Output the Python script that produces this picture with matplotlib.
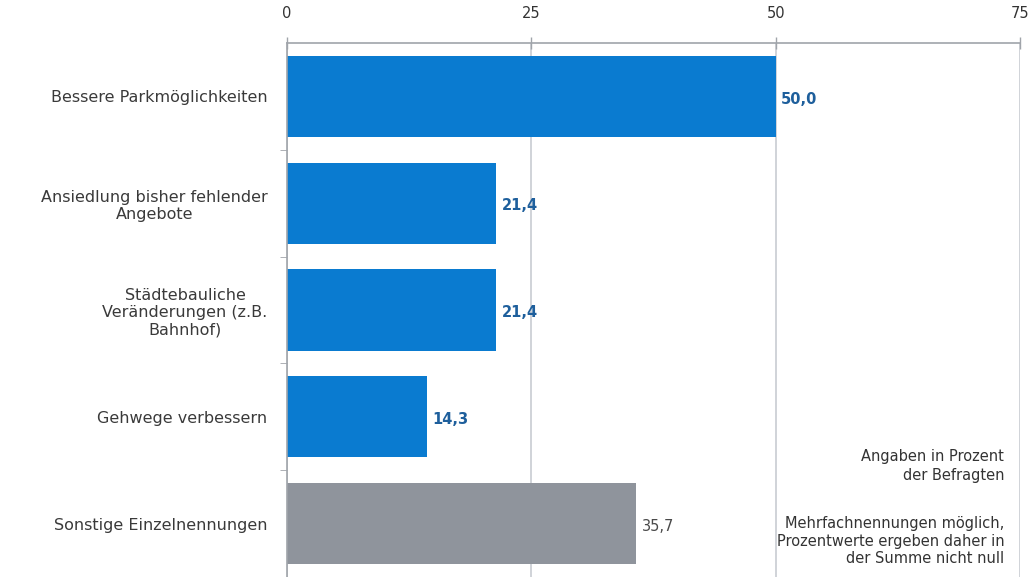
import matplotlib.pyplot as plt

plt.rcParams['font.family'] = ['DejaVu Sans']

# Daten
kategorien = ['Bessere Parkmöglichkeiten',
              'Ansiedlung bisher fehlender\nAngebote',
              'Städtebauliche\nVeränderungen (z.B.\nBahnhof)',
              'Gehwege verbessern',
              'Sonstige Einzelnennungen']
werte = [50.0, 21.4, 21.4, 14.3, 35.7]
farben = ['#0a7bd0', '#0a7bd0', '#0a7bd0', '#0a7bd0', '#8f949c']
label_farben = ['#1e5f9c', '#1e5f9c', '#1e5f9c', '#1e5f9c', '#4a4a4a']
label_gewicht = ['bold', 'bold', 'bold', 'bold', 'normal']
x_ticks = [0, 25, 50, 75]

fig = plt.figure(figsize=(10.31, 5.77), dpi=100)
ax = fig.add_axes([0.2784, 0.0, 0.7109, 0.9255])

pos = list(range(len(kategorien)))
ax.barh(pos, werte, height=0.76, color=farben, zorder=2)

# Werte an den Balken
for p, w, c, fw in zip(pos, werte, label_farben, label_gewicht):
    ax.annotate(f'{w:.1f}'.replace('.', ','), xy=(w, p), xytext=(4, -2),
                textcoords='offset points', va='center', ha='left',
                fontsize=10.5, fontweight=fw, color=c)

ax.set_xlim(0, 75)
ax.set_ylim(len(kategorien) - 0.5, -0.5)

ax.xaxis.tick_top()
ax.set_xticks(x_ticks)
ax.tick_params(axis='x', direction='inout', length=8, width=1, color='#a0a4aa',
               labelsize=10.5, labelcolor='#333333', pad=12)
ax.xaxis.grid(True, color='#c8ccd2', linewidth=1.2, zorder=0)

ax.set_yticks(pos)
ax.set_yticklabels(kategorien, ha='right', multialignment='center',
                   fontsize=11.5, color='#3a3a3a', linespacing=1.2)
ax.tick_params(axis='y', length=0, pad=14)
# kleine Striche zwischen den Kategorien
ax.set_yticks([p + 0.5 for p in pos[:-1]], minor=True)
ax.tick_params(axis='y', which='minor', length=5, color='#a0a4aa', direction='out')

for s in ['right', 'bottom']:
    ax.spines[s].set_visible(False)
for s in ['top', 'left']:
    ax.spines[s].set_color('#a0a4aa')
    ax.spines[s].set_linewidth(1.2)

fig.text(0.974, 0.192, 'Angaben in Prozent\nder Befragten', ha='right', va='center',
         fontsize=10.5, color='#333333', linespacing=1.3)
fig.text(0.974, 0.062, 'Mehrfachnennungen möglich,\nProzentwerte ergeben daher in\nder Summe nicht null',
         ha='right', va='center', fontsize=10.5, color='#333333', linespacing=1.2)

fig.savefig('out.png', dpi=100)
